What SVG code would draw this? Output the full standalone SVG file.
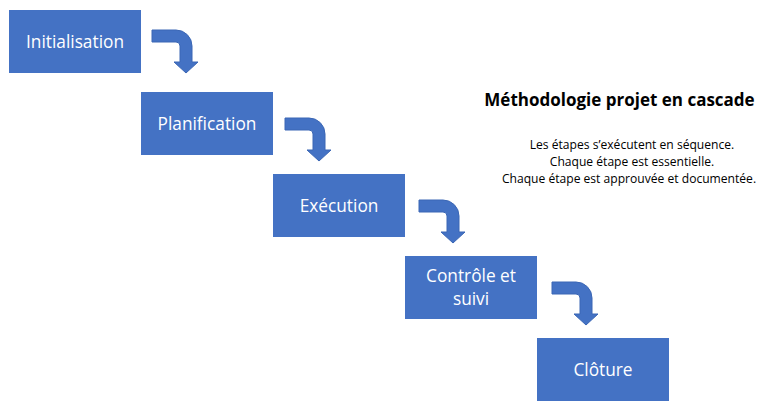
<svg xmlns="http://www.w3.org/2000/svg" xmlns:xlink="http://www.w3.org/1999/xlink" width="768" height="413" viewBox="0 0 768 413">
<style>
.box{fill:#4472C4}
.lbl{font-family:"Open Sans","Liberation Sans",sans-serif;font-size:17.3px;fill:#ffffff;text-anchor:middle}
.arr{fill:#4472C4;stroke:#3A66B5;stroke-width:1}
.title{font-family:"Open Sans","Liberation Sans",sans-serif;font-size:17px;font-weight:bold;fill:#000;text-anchor:middle}
.sub{font-family:"Open Sans","Liberation Sans",sans-serif;font-size:12.1px;fill:#000;text-anchor:middle}
</style>
<defs>
<path id="bent" d="M0 0 H24 A16 16 0 0 1 40 16 V32 H46 L34 43 L22 32 H28 V16 A4 4 0 0 0 24 12 H0 Z"/>
</defs>
<rect width="768" height="413" fill="#ffffff"/>
<g id="connectors">
<use xlink:href="#bent" class="arr" transform="translate(152,30)"/>
<use xlink:href="#bent" class="arr" transform="translate(285,118)"/>
<use xlink:href="#bent" class="arr" transform="translate(419,200)"/>
<use xlink:href="#bent" class="arr" transform="translate(552,282)"/>
</g>
<g id="n1"><rect class="box" x="9" y="10" width="132" height="63"/><text class="lbl" x="75" y="48">Initialisation</text></g>
<g id="n2"><rect class="box" x="141" y="92" width="132" height="63"/><text class="lbl" x="207" y="130">Planification</text></g>
<g id="n3"><rect class="box" x="273" y="174" width="132" height="63"/><text class="lbl" x="339" y="212">Exécution</text></g>
<g id="n4"><rect class="box" x="405" y="256" width="132" height="63"/><text class="lbl" x="471" y="282">Contrôle et</text><text class="lbl" x="471" y="305">suivi</text></g>
<g id="n5"><rect class="box" x="537" y="338" width="132" height="63"/><text class="lbl" x="603" y="376">Clôture</text></g>
<g id="caption">
<text class="title" x="619.5" y="106">Méthodologie projet en cascade</text>
<text class="sub" x="632" y="149">Les étapes s’exécutent en séquence.</text>
<text class="sub" x="632" y="166">Chaque étape est essentielle.</text>
<text class="sub" x="629" y="183">Chaque étape est approuvée et documentée.</text>
</g>
</svg>
